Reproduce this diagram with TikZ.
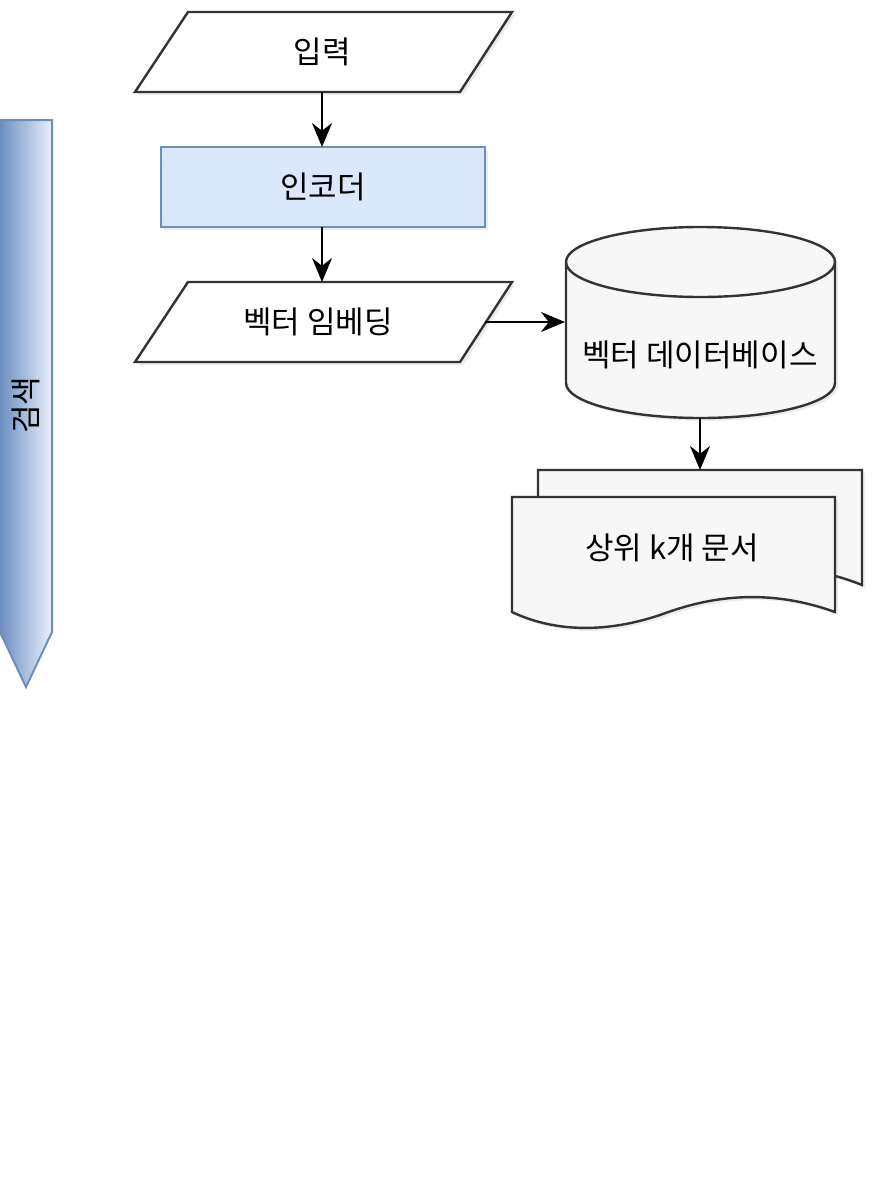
\documentclass[tikz,border=0pt]{standalone}
\usepackage{fontspec}
\setmainfont{Noto Sans CJK KR}
\usetikzlibrary{arrows.meta,shadows}
\definecolor{bfill}{HTML}{DAE8FC}
\definecolor{bline}{HTML}{6C8EBF}
\begin{document}
\begin{tikzpicture}[x=1pt,y=-1pt,
  sh/.style={line width=2.4pt,draw=black!80,fill=white,drop shadow={shadow xshift=3pt,shadow yshift=-3pt,opacity=0.15}},
  gsh/.style={sh,fill=black!3},
  arr/.style={line width=2.4pt,-{Stealth[length=24pt,width=20pt]}},
  txt/.style={font=\fontsize{31}{35}\selectfont}]
\useasboundingbox (0,0) rectangle (880,1200);
% left band
\shade[left color=bline,right color=bfill!60] (0,120)--(52,120)--(52,632)--(26,687)--(0,632)--cycle;
\draw[bline,line width=2pt] (0,120)--(52,120)--(52,632)--(26,687)--(0,632)--cycle;
\node[txt,rotate=90] (band) at (26,405) {검색};
% input
\draw[sh] (188,12)--(512,12)--(460,92)--(135,92)--cycle;
\node[txt] (inp) at (322,52) {입력};
\coordinate (inpB) at (322,92);
% encoder
\draw[sh,fill=bfill,draw=bline] (161,147) rectangle (485,227);
\node[txt] (enc) at (323,187) {인코더};
\coordinate (encT) at (322,147);
\coordinate (encB) at (322,227);
% embedding
\draw[sh] (188,282)--(512,282)--(460,362)--(135,362)--cycle;
\node[txt] (emb) at (318,322) {벡터 임베딩};
\coordinate (embT) at (322,282);
\coordinate (embR) at (485,322);
% cylinder
\draw[gsh] (566,262) -- (566,383) arc[start angle=180,end angle=0,x radius=134.5,y radius=35] -- (835,262) arc[start angle=0,end angle=-180,x radius=134.5,y radius=35] -- cycle;
\draw[line width=2.4pt,draw=black!80] (566,262) arc[start angle=180,end angle=0,x radius=134.5,y radius=35];
\node[txt] (db) at (700,355) {벡터 데이터베이스};
\coordinate (dbL) at (565,322);
\coordinate (dbB) at (700,418);
% documents
\draw[gsh] (538,470)--(862,470)--(862,585) .. controls (800,560) and (760,570) .. (700,590) --(538,590)--cycle;
\draw[gsh] (512,497)--(835,497)--(835,612) .. controls (760,585) and (700,600) .. (660,615) .. controls (600,635) and (550,630) .. (512,612) -- cycle;
\node[txt] (doc) at (672,548) {상위 k개 문서};
\coordinate (docT) at (700,470);
% arrows
\draw[arr] (inpB)--(encT);
\draw[arr] (encB)--(embT);
\draw[arr] (embR)--(dbL);
\draw[arr] (dbB)--(docT);
\end{tikzpicture}
\end{document}
